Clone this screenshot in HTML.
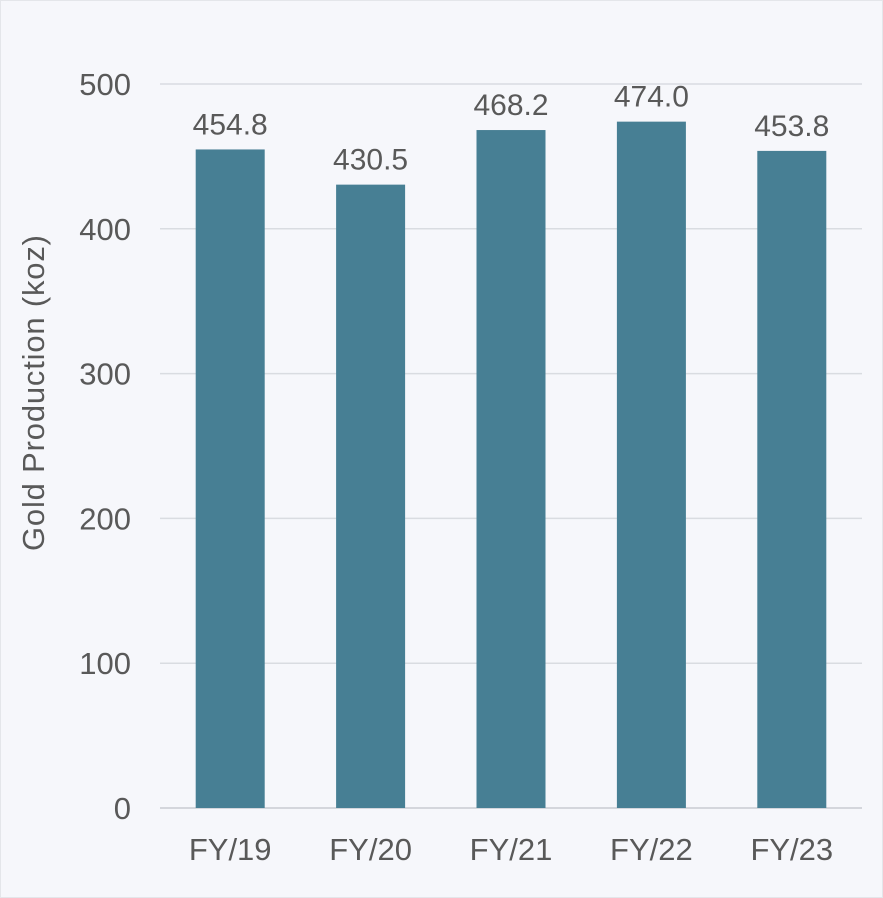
<!DOCTYPE html>
<html><head><meta charset="utf-8"><style>
html,body{margin:0;padding:0;background:#f6f7fb;}
svg{display:block;font-family:"Liberation Sans",Arial,sans-serif;}
</style></head><body>
<svg id="chart" width="883" height="898" viewBox="0 0 883 898">
<rect x="0.5" y="0.5" width="882" height="897" fill="#f6f7fb" stroke="#e4e6ea"/>
<g id="grid"></g><g id="bars"></g><g id="labels"></g>
<text transform="translate(44,393) rotate(-90)" text-anchor="middle" font-size="31" textLength="316" lengthAdjust="spacing" fill="#595959">Gold Production (koz)</text>
</svg>
<script>
const categories = ["FY/19","FY/20","FY/21","FY/22","FY/23"];
const values = [454.8,430.5,468.2,474.0,453.8];
const valueLabels = ["454.8","430.5","468.2","474.0","453.8"];
const yTicks = [0,100,200,300,400,500];
const NS="http://www.w3.org/2000/svg";
const x0=160,x1=862,y0=808,yTop=84,yMax=500;
const band=(x1-x0)/categories.length, bw=69;
const y=v=>y0-(v/yMax)*(y0-yTop);
const xc=i=>x0+band*(i+0.5);
function mk(t,a,p){const e=document.createElementNS(NS,t);for(const k in a)e.setAttribute(k,a[k]);p.appendChild(e);return e;}
const G=document.getElementById('grid'),B=document.getElementById('bars'),L=document.getElementById('labels');
yTicks.forEach(t=>{
 const ln=mk('line',{x1:x0,x2:x1,y1:y(t),y2:y(t),stroke:t===0?'#c8ccd2':'#d9dce1','stroke-width':1.5},G);
 
 
 const tx=mk('text',{x:131,y:y(t)+11,'text-anchor':'end','font-size':31,fill:'#595959'},G);
 tx.textContent=t;
 
 
});
categories.forEach((c,i)=>{
 const r=mk('rect',{x:xc(i)-bw/2,y:y(values[i]),width:bw,height:y0-y(values[i]),fill:'#477f94'},B);
 
 
 const v=mk('text',{x:xc(i),y:y(values[i])-15,'text-anchor':'middle','font-size':30,fill:'#595959'},L);
 v.textContent=valueLabels[i];
 
 
 const cl=mk('text',{x:xc(i),y:860,'text-anchor':'middle','font-size':31,fill:'#595959'},L);
 cl.textContent=c;
 
 
});
</script>
</body></html>
